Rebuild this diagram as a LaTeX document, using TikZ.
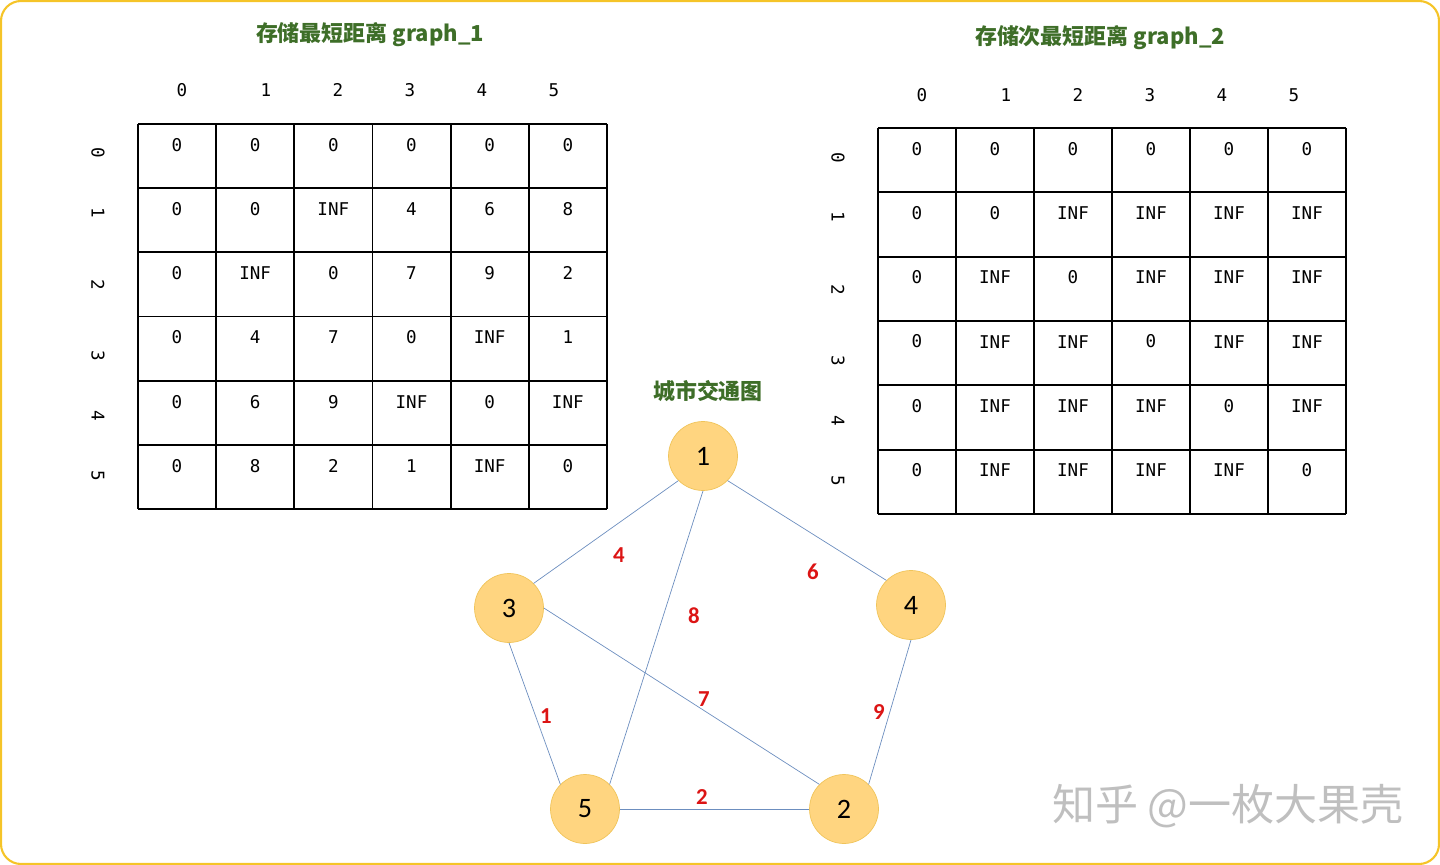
\documentclass[tikz,border=0pt]{standalone}
\usepackage{fontspec}
\setmainfont{Carlito}
\setmonofont{DejaVu Sans Mono}
\newfontfamily\cjk{Noto Sans CJK SC}
\usetikzlibrary{positioning}

\definecolor{titlegreen}{RGB}{62,110,40}
\definecolor{nodefill}{RGB}{255,213,128}
\definecolor{nodeline}{RGB}{240,196,90}
\definecolor{edgeblue}{RGB}{108,142,191}
\definecolor{labelred}{RGB}{220,20,20}
\definecolor{frameyellow}{RGB}{245,196,40}

\begin{document}
\begin{tikzpicture}[x=0.02cm,y=-0.02cm,
		cell/.style={font=\ttfamily\fontsize{10}{12}\selectfont},
		city/.style={circle,draw=nodeline,fill=nodefill,minimum size=1.38cm,inner sep=0pt,font=\fontsize{16}{18}\selectfont},
		weight/.style={text=labelred,font=\bfseries\fontsize{13}{15}\selectfont},
		title/.style={text=titlegreen,font=\cjk\bfseries\fontsize{12.5}{15}\selectfont}]
		\useasboundingbox (0,0) rectangle (1440,865);
		\draw[frameyellow,line width=1.2pt,rounded corners=0.4cm] (1,1) rectangle (1439,864);
		
		% table graph_1
		\node[title] (t1) at (370,35) {存储最短距离 graph\_1};
		\foreach \i in {0,...,6} {
			\draw[line width=1pt] (138+78.17*\i,124) -- (138+78.17*\i,509);
			\draw[line width=1pt] (138,124+64.17*\i) -- (607,124+64.17*\i);
		}
		\foreach \h/\x in {0/182,1/266,2/338,3/410,4/482,5/554}
			\node[cell] (ha-\h) at (\x,90) {\h};
		\foreach \h/\y in {0/153,1/213,2/285,3/356,4/416,5/476}
			\node[cell,rotate=-90] (va-\h) at (98,\y) {\h};
		\foreach \row [count=\r from 0] in {{0,0,0,0,0,0},{0,0,INF,4,6,8},{0,INF,0,7,9,2},{0,4,7,0,INF,1},{0,6,9,INF,0,INF},{0,8,2,1,INF,0}}
			\foreach \v [count=\c from 0] in \row
				\node[cell] (ga-\r-\c) at (177+78.17*\c,145+64.17*\r) {\v};
		
		% table graph_2
		\node[title] (t2) at (1100,38) {存储次最短距离 graph\_2};
		\foreach \i in {0,...,6} {
			\draw[line width=1pt] (878+78*\i,128) -- (878+78*\i,514);
			\draw[line width=1pt] (878,128+64.33*\i) -- (1346,128+64.33*\i);
		}
		\foreach \h/\x in {0/922,1/1006,2/1078,3/1150,4/1222,5/1294}
			\node[cell] (hb-\h) at (\x,95) {\h};
		\foreach \h/\y in {0/158,1/217,2/290,3/361,4/421,5/481}
			\node[cell,rotate=-90] (vb-\h) at (838,\y) {\h};
		\foreach \row [count=\r from 0] in {{0,0,0,0,0,0},{0,0,INF,INF,INF,INF},{0,INF,0,INF,INF,INF},{0,INF,INF,0,INF,INF},{0,INF,INF,INF,0,INF},{0,INF,INF,INF,INF,0}}
			\foreach \v [count=\c from 0] in \row
				\node[cell] (gb-\r-\c) at (917+78*\c,149+64.2*\r) {\v};
		
		% city map
		\node[title] (tg) at (708,391) {城市交通图};
		\node[city] (c1) at (703,456) {1};
		\node[city] (c3) at (509,608) {3};
		\node[city] (c4) at (911,605) {4};
		\node[city] (c5) at (585,809) {5};
		\node[city] (c2) at (844,809) {2};
		
		\draw[edgeblue] (c1.south west) -- (c3.north east);
		\draw[edgeblue] (c1.south) -- (c5.north east);
		\draw[edgeblue] (c1.south east) -- (c4.north west);
		\draw[edgeblue] (c3.east) -- (c2.north west);
		\draw[edgeblue] (c3.south) -- (c5.north west);
		\draw[edgeblue] (c5) -- (c2);
		\draw[edgeblue] (c4.south) -- (c2.north east);
		
		\node[weight] (w13) at (619,555) {4};
		\node[weight] (w14) at (813,572) {6};
		\node[weight] (w15) at (694,616) {8};
		\node[weight] (w32) at (704,699) {7};
		\node[weight] (w35) at (546,716) {1};
		\node[weight] (w42) at (879,712) {9};
		\node[weight] (w52) at (702,797) {2};
		
		\node[font=\cjk\fontsize{24.5}{28}\selectfont,text=gray!50] (mark) at (1228,806) {知乎 @一枚大果壳};
	\end{tikzpicture}
\end{document}
